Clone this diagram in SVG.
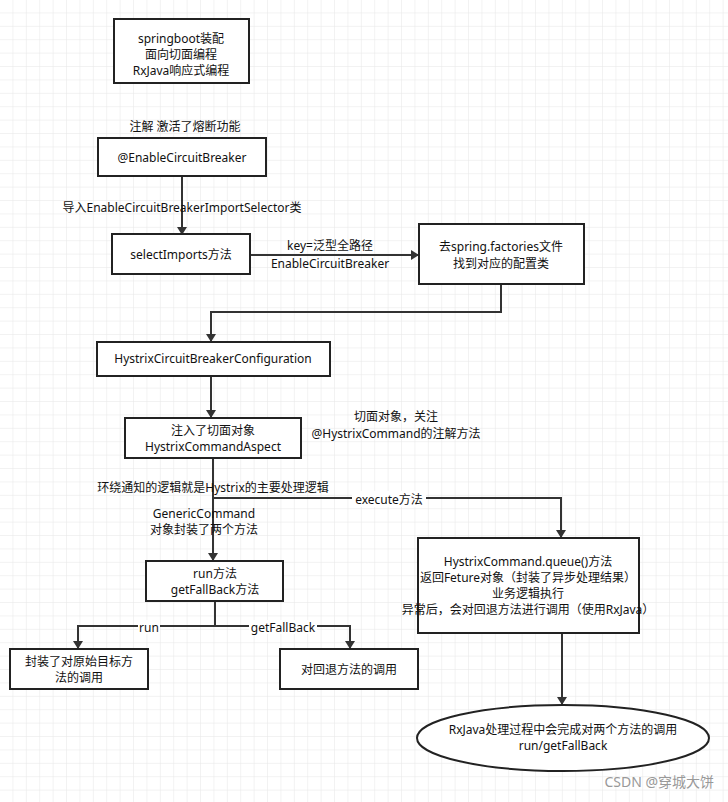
<svg xmlns="http://www.w3.org/2000/svg" width="728" height="802" viewBox="0 0 728 802">
<style>
.n{fill:#fff;stroke:#222;stroke-width:2}
.t{font-family:"Noto Sans","Noto Sans CJK SC",sans-serif;font-size:12px;fill:#111;text-anchor:middle}
.c{fill:none;stroke:#333;stroke-width:2}
.lb{fill:#fff}
</style>
<defs>
<pattern id="g" width="13.4" height="13.4" patternUnits="userSpaceOnUse"><path d="M13.4 0V13.4H0" fill="none" stroke="#e6e6e6" stroke-width="1"/></pattern>
<marker id="a" markerWidth="8" markerHeight="10" refX="7" refY="5" orient="auto" markerUnits="userSpaceOnUse"><path d="M0 0L8 5L0 10Z" fill="#333"/></marker>
</defs>
<rect width="728" height="802" fill="#fff"/>
<rect width="728" height="802" fill="url(#g)"/>
<g id="connectors">
<path class="c" d="M182 176V234" marker-end="url(#a)"/>
<path class="c" d="M250 255H418" marker-end="url(#a)"/>
<path class="c" d="M501 284V312H211V341" marker-end="url(#a)"/>
<path class="c" d="M211 376V417" marker-end="url(#a)"/>
<path class="c" d="M213 458V560" marker-end="url(#a)"/>
<path class="c" d="M213 498H561V537" marker-end="url(#a)"/>
<path class="c" d="M215 601V626H78V648" marker-end="url(#a)"/>
<path class="c" d="M215 626H350V648" marker-end="url(#a)"/>
<path class="c" d="M562 633V704" marker-end="url(#a)"/>
<rect class="lb" x="352" y="491" width="74" height="16"/>
<rect class="lb" x="138" y="620" width="22" height="14"/>
<rect class="lb" x="249" y="620" width="68" height="14"/>
<text class="t" x="182" y="212">导入EnableCircuitBreakerImportSelector类</text>
<text class="t" x="330" y="250">key=泛型全路径</text>
<text class="t" x="330" y="268">EnableCircuitBreaker</text>
<text class="t" x="213" y="492">环绕通知的逻辑就是Hystrix的主要处理逻辑</text>
<text class="t" x="389" y="504">execute方法</text>
<text class="t" x="204" y="518">GenericCommand</text>
<text class="t" x="204" y="534">对象封装了两个方法</text>
<text class="t" x="149" y="632">run</text>
<text class="t" x="283" y="632">getFallBack</text>
</g>
<g id="n1"><rect class="n" x="114" y="19" width="135" height="64"/><text class="t" x="181" y="43">springboot装配</text><text class="t" x="181" y="59">面向切面编程</text><text class="t" x="181" y="75">RxJava响应式编程</text></g>
<text class="t" x="185" y="131">注解 激活了熔断功能</text>
<g id="n2"><rect class="n" x="98" y="138" width="168" height="38"/><text class="t" x="182" y="162">@EnableCircuitBreaker</text></g>
<g id="n3"><rect class="n" x="112" y="234" width="138" height="40"/><text class="t" x="181" y="259">selectImports方法</text></g>
<g id="n4"><rect class="n" x="419" y="224" width="165" height="60"/><text class="t" x="501" y="251">去spring.factories文件</text><text class="t" x="501" y="268">找到对应的配置类</text></g>
<g id="n5"><rect class="n" x="97" y="342" width="233" height="34"/><text class="t" x="213" y="363">HystrixCircuitBreakerConfiguration</text></g>
<g id="n6"><rect class="n" x="125" y="418" width="176" height="40"/><text class="t" x="213" y="435">注入了切面对象</text><text class="t" x="213" y="451">HystrixCommandAspect</text></g>
<text class="t" x="396" y="421">切面对象，关注</text>
<text class="t" x="396" y="438">@HystrixCommand的注解方法</text>
<g id="n7"><rect class="n" x="146" y="561" width="137" height="40"/><text class="t" x="215" y="578">run方法</text><text class="t" x="215" y="594">getFallBack方法</text></g>
<g id="n8"><rect class="n" x="418" y="538" width="221" height="95"/><text class="t" x="528" y="566">HystrixCommand.queue()方法</text><text class="t" x="528" y="582">返回Feture对象（封装了异步处理结果）</text><text class="t" x="528" y="598">业务逻辑执行</text><text class="t" x="528" y="614">异常后，会对回退方法进行调用（使用RxJava）</text></g>
<g id="n9"><rect class="n" x="10" y="649" width="138" height="40"/><text class="t" x="79" y="666">封装了对原始目标方</text><text class="t" x="79" y="682">法的调用</text></g>
<g id="n10"><rect class="n" x="280" y="649" width="138" height="40"/><text class="t" x="349" y="674">对回退方法的调用</text></g>
<g id="n11"><ellipse class="n" cx="563" cy="738" rx="146" ry="33"/><text class="t" x="563" y="734">RxJava处理过程中会完成对两个方法的调用</text><text class="t" x="563" y="750">run/getFallBack</text></g>
<text x="714" y="787" style="font-family:'Noto Sans','Noto Sans CJK SC',sans-serif;font-size:14px;fill:#999;text-anchor:end">CSDN @穿城大饼</text>
</svg>
